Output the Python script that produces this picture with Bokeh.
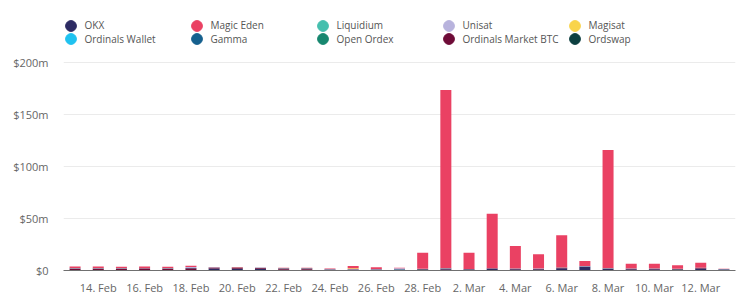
from bokeh.plotting import figure
from bokeh.models import (ColumnDataSource, Range1d, FixedTicker, CustomJSTickFormatter,
                          Legend, LegendItem)
from bokeh.embed import file_html
from bokeh.resources import INLINE

# ---- data (USD millions per day, 13 Feb – 13 Mar 2023) ----
days = ["13 Feb", "14 Feb", "15 Feb", "16 Feb", "17 Feb", "18 Feb", "19 Feb", "20 Feb",
        "21 Feb", "22 Feb", "23 Feb", "24 Feb", "25 Feb", "26 Feb", "27 Feb", "28 Feb",
        "1 Mar", "2 Mar", "3 Mar", "4 Mar", "5 Mar", "6 Mar", "7 Mar", "8 Mar",
        "9 Mar", "10 Mar", "11 Mar", "12 Mar", "13 Mar"]

okx = [0.4, 0.4, 0.4, 0.4, 0.4, 0.5, 1.9, 1.8, 1.7, 0.8, 0.8, 0.3, 0.3, 0.3, 0.6,
       0.9, 1.2, 0.8, 1.4, 1.2, 1.1, 2.2, 3.6, 1.4, 1.2, 1.2, 1.0, 2.0, 0.7]
ordinals_market_btc = [1.4, 1.4, 1.4, 1.5, 1.4, 1.6, 0.8, 0.8, 0.6, 1.2, 1.2, 0.7, 0.7, 0.7, 0.4,
                       0.4, 0.6, 0.4, 0.5, 0.4, 0.4, 0.4, 0.3, 0.4, 0.4, 0.4, 0.3, 0.4, 0.4]
ordswap = [0.05] * 29
gamma = [0.1, 0.1, 0.1, 0.1, 0.1, 0.2, 0.1, 0.1, 0.1, 0.1, 0.1, 0.1, 0.1, 0.1, 0.2,
         0.1, 0.1, 0.1, 0.1, 0.1, 0.1, 0.1, 0.1, 0.1, 0.1, 0.1, 0.1, 0.1, 0.1]
open_ordex = [0.05] * 29
ordinals_wallet = [0.05] * 29
unisat = [0.1, 0.1, 0.1, 0.1, 0.1, 1.0, 0.1, 0.1, 0.1, 0.1, 0.1, 0.1, 0.1, 0.1, 0.8,
          0.1, 0.1, 0.1, 0.1, 0.1, 0.1, 0.1, 0.1, 0.1, 0.1, 0.1, 0.1, 0.1, 0.1]
liquidium = [0.0] * 29
magisat = [0.0, 0.0, 0.0, 0.0, 0.0, 0.0, 0.0, 0.0, 0.0, 0.0, 0.0, 0.0, 0.7, 0.1, 0.0,
           0.0, 0.0, 0.0, 0.0, 0.0, 0.0, 0.0, 0.0, 0.0, 0.0, 0.0, 0.0, 0.0, 0.0]
magic_eden = [1.7, 1.7, 1.5, 1.7, 1.5, 1.1, 0.4, 0.4, 0.2, 0.4, 0.4, 0.5, 2.4, 1.8, 0.5,
              15.4, 171.8, 15.6, 52.5, 21.6, 13.7, 31.0, 4.9, 113.9, 4.6, 4.6, 3.5, 4.8, 0.2]

tick_days = [1, 3, 5, 7, 9, 11, 13, 15, 17, 19, 21, 23, 25, 27]
tick_labels = ["14. Feb", "16. Feb", "18. Feb", "20. Feb", "22. Feb", "24. Feb", "26. Feb",
               "28. Feb", "2. Mar", "4. Mar", "6. Mar", "8. Mar", "10. Mar", "12. Mar"]
y_ticks = [0, 50, 100, 150, 200]

legend_row1 = ["OKX", "Magic Eden", "Liquidium", "Unisat", "Magisat"]
legend_row2 = ["Ordinals Wallet", "Gamma", "Open Ordex", "Ordinals Market BTC", "Ordswap"]
colors = {
    "OKX": "#2d2b63", "Magic Eden": "#ea4163", "Liquidium": "#45bfae", "Unisat": "#b8b3dd",
    "Magisat": "#f9d44b", "Ordinals Wallet": "#1fc2f0", "Gamma": "#15608e",
    "Open Ordex": "#17876f", "Ordinals Market BTC": "#6e0b37", "Ordswap": "#0c3f40",
}
series = {
    "OKX": okx, "Ordinals Market BTC": ordinals_market_btc, "Ordswap": ordswap,
    "Gamma": gamma, "Open Ordex": open_ordex, "Ordinals Wallet": ordinals_wallet,
    "Unisat": unisat, "Liquidium": liquidium, "Magisat": magisat, "Magic Eden": magic_eden,
}
stack_order = list(series.keys())  # bottom -> top

data = {"x": list(range(len(days)))}
data.update(series)
source = ColumnDataSource(data)

FONT = "Open Sans"

p = figure(width=740, height=297, output_backend="svg", toolbar_location=None,
           x_range=Range1d(-0.5, len(days) - 0.5), y_range=Range1d(0, 260.2),
           min_border_left=63, min_border_right=5, min_border_top=0, min_border_bottom=27)
p.outline_line_color = None
p.background_fill_color = "white"
p.border_fill_color = "white"

p.vbar_stack(stack_order, x="x", width=0.475, source=source,
             color=[colors[n] for n in stack_order], line_color=None)


def make_legend(names, loc):
    items = []
    for name in names:
        # zero-size markers: only used to draw the round legend swatch
        r = p.scatter(x="x", y=name, source=source, size=0, marker="circle",
                      color=colors[name])
        items.append(LegendItem(label=name, renderers=[r]))
    lg = Legend(items=items, orientation="horizontal", location=loc,
                padding=0, margin=0, spacing=0,
                glyph_width=27, glyph_height=27, label_standoff=1, label_width=98,
                label_height=14, border_line_color=None, background_fill_alpha=0,
                label_text_font=FONT, label_text_font_size="10px",
                label_text_color="#555555")
    p.add_layout(lg)


make_legend(legend_row1, (-6.5, 231.5))
make_legend(legend_row2, (-6.5, 218))

# axes
p.xaxis.ticker = FixedTicker(ticks=tick_days)
p.xaxis.major_label_overrides = {t: l for t, l in zip(tick_days, tick_labels)}
p.xaxis.axis_line_color = "#707070"
p.xaxis.major_tick_line_color = None
p.xaxis.minor_tick_line_color = None
p.xaxis.major_tick_out = 0
p.xaxis.major_tick_in = 0
p.xaxis.major_label_standoff = 9
p.xaxis.major_label_text_font = FONT
p.xaxis.major_label_text_font_size = "11px"
p.xaxis.major_label_text_color = "#666666"

p.yaxis.ticker = FixedTicker(ticks=y_ticks)
p.yaxis.formatter = CustomJSTickFormatter(code="return tick == 0 ? '$0' : '$' + tick + 'm';")
p.yaxis.axis_line_color = None
p.yaxis.major_tick_line_color = None
p.yaxis.minor_tick_line_color = None
p.yaxis.major_tick_out = 0
p.yaxis.major_tick_in = 0
p.yaxis.major_label_standoff = 15
p.yaxis.major_label_text_font = FONT
p.yaxis.major_label_text_font_size = "11px"
p.yaxis.major_label_text_color = "#666666"

p.xgrid.grid_line_color = None
p.ygrid.grid_line_color = "#ebebeb"

open("out.html", "w").write(file_html(p, INLINE))
